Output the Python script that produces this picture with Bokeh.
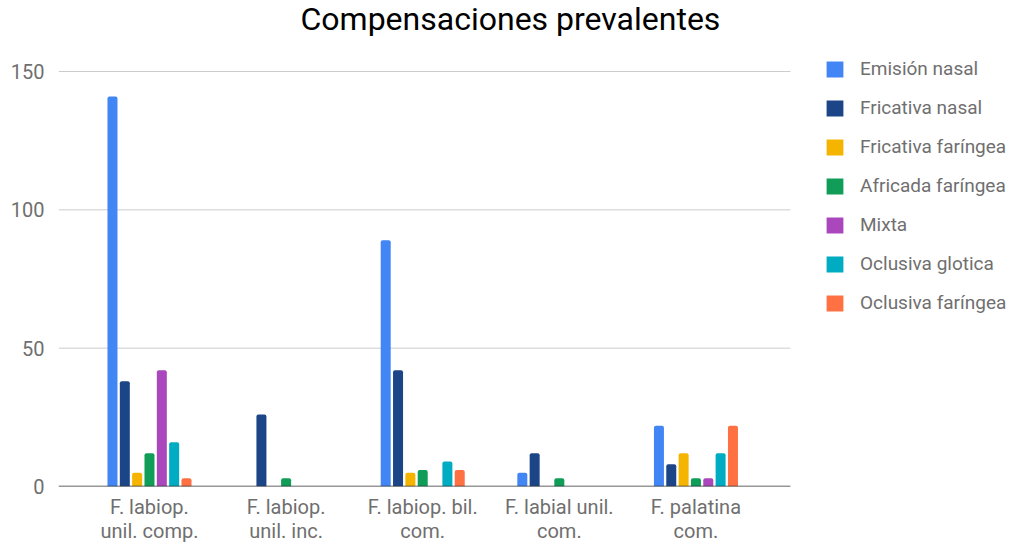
from bokeh.plotting import figure
from bokeh.models import Range1d, FixedTicker, Legend, LegendItem, Label, ColumnDataSource
from bokeh.embed import file_html
from bokeh.resources import INLINE

categories = ["F. labiop.\nunil. comp.", "F. labiop.\nunil. inc.", "F. labiop. bil.\ncom.",
              "F. labial unil.\ncom.", "F. palatina\ncom."]

series_names = ["Emisión nasal", "Fricativa nasal", "Fricativa faríngea", "Africada faríngea",
                "Mixta", "Oclusiva glotica", "Oclusiva faríngea"]

emision_nasal = [141, 0, 89, 5, 22]
fricativa_nasal = [38, 26, 42, 12, 8]
fricativa_faringea = [5, 0, 5, 0, 12]
africada_faringea = [12, 3, 6, 3, 3]
mixta = [42, 0, 0, 0, 3]
oclusiva_glotica = [16, 0, 9, 0, 12]
oclusiva_faringea = [3, 0, 6, 0, 22]

y_ticks = [0, 50, 100, 150]

series_values = [emision_nasal, fricativa_nasal, fricativa_faringea, africada_faringea,
                 mixta, oclusiva_glotica, oclusiva_faringea]
colors = ["#4285f4", "#1c4587", "#f4b400", "#0f9d58", "#ab47bc", "#00acc1", "#ff7043"]

FONT = "Roboto"
LABEL_COLOR = "#6f6f6f"
W, H = 1010, 545

# The frame covers the whole canvas apart from the two axes, so the title and
# legend can sit inside it; the plotted area ends at x = PLOT_END.
X_START, PLOT_END, X_END = -0.666, 4.692, 6.3025
Y_END = 175.66

p = figure(width=W, height=H, output_backend="svg", toolbar_location=None,
           x_range=Range1d(X_START, X_END), y_range=Range1d(0, Y_END),
           min_border_left=58, min_border_right=0, min_border_top=0, min_border_bottom=59)
p.outline_line_color = None
p.background_fill_color = "white"
p.border_fill_color = "white"
p.xgrid.grid_line_color = None
p.ygrid.grid_line_color = None

# horizontal gridlines limited to the plotted area
grid_y = y_ticks[1:]
p.segment(x0=[X_START] * len(grid_y), x1=[PLOT_END] * len(grid_y), y0=grid_y, y1=grid_y,
          line_color="#cccccc", line_width=1)

pitch = 0.0903
bar_w = 0.0732
items = []
for j, (name, vals, col) in enumerate(zip(series_names, series_values, colors)):
    xs = [i + (j - 3) * pitch for i in range(len(categories))]
    src = ColumnDataSource(dict(x=xs, top=vals))
    r = p.vbar(x="x", top="top", bottom=0, width=bar_w, source=src,
               fill_color=col, line_color=None, border_radius=(2, 2, 0, 0))
    items.append(LegendItem(label=name, renderers=[r]))

# baseline at zero
p.segment(x0=[X_START], x1=[PLOT_END], y0=[y_ticks[0]], y1=[y_ticks[0]],
          line_color="#333333", line_width=1.5)

# axes
xa = p.xaxis[0]
xa.ticker = FixedTicker(ticks=list(range(len(categories))))
xa.major_label_overrides = {i: c for i, c in enumerate(categories)}
xa.axis_line_color = None
xa.major_tick_line_color = None
xa.minor_tick_line_color = None
xa.major_label_text_font = FONT
xa.major_label_text_font_size = "20px"
xa.major_label_text_color = LABEL_COLOR
xa.major_label_text_line_height = 1.0
xa.major_label_standoff = 2

ya = p.yaxis[0]
ya.ticker = FixedTicker(ticks=y_ticks)
ya.axis_line_color = None
ya.major_tick_line_color = None
ya.minor_tick_line_color = None
ya.major_label_text_font = FONT
ya.major_label_text_font_size = "20px"
ya.major_label_text_color = LABEL_COLOR
ya.major_label_standoff = 8

legend = Legend(items=items, location=(766, 172), orientation="vertical")
legend.glyph_width = 21
legend.glyph_height = 20
legend.label_height = 20
legend.spacing = 16
legend.label_standoff = 15
legend.padding = 0
legend.margin = 0
legend.border_line_color = None
legend.background_fill_alpha = 0
legend.label_text_font = FONT
legend.label_text_font_size = "19px"
legend.label_text_color = LABEL_COLOR
p.add_layout(legend, "center")

title = Label(x=242, y=468, x_units="screen", y_units="screen",
              text="Compensaciones prevalentes", text_align="left",
              text_baseline="alphabetic", text_font=FONT, text_font_size="32px",
              text_color="#000000")
p.add_layout(title)

open("out.html", "w").write(file_html(p, INLINE))
